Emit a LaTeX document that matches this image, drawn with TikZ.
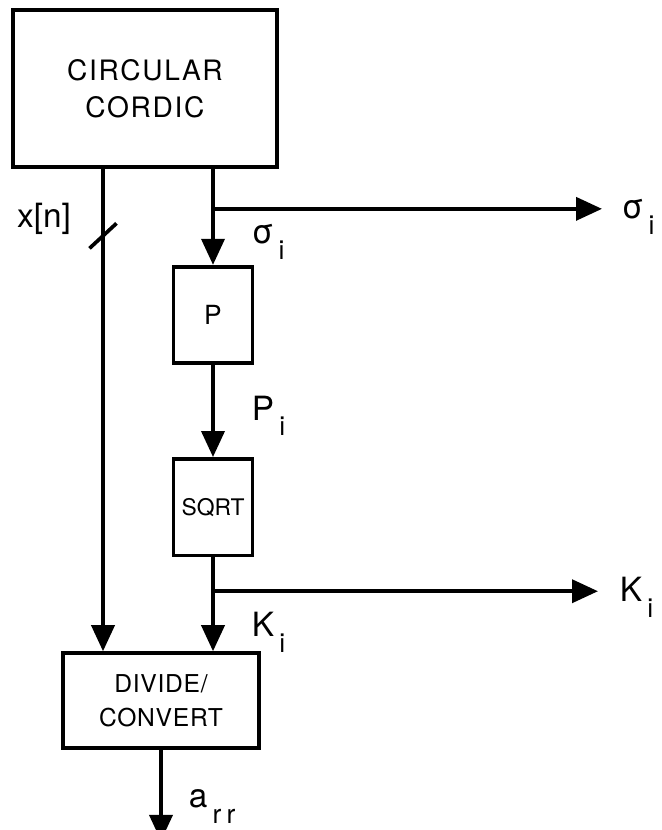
\documentclass[tikz,border=0pt]{standalone}
\usepackage{fontspec}
\setmainfont{TeX Gyre Heros}
\usepackage{tikz}
\usetikzlibrary{arrows.meta, positioning}
\newcommand{\lsub}[2]{#1\hspace{3pt}\raisebox{-9pt}{\fontsize{15}{15}\selectfont #2}}

\begin{document}
\begin{tikzpicture}[
  node distance=1.9cm and 1.0cm,
  line width=2.1pt,
  blk/.style={rectangle, draw=black, line width=2.1pt, align=center, inner sep=0pt},
  bigblk/.style={blk, minimum width=5.28cm, minimum height=3.14cm,
              font=\fontsize{16}{21}\selectfont\addfontfeature{LetterSpace=6}},
  smallblk/.style={blk, minimum width=1.58cm, minimum height=1.93cm},
  divblk/.style={blk, minimum width=3.92cm, minimum height=1.9cm,
              font=\fontsize{14}{19}\selectfont\addfontfeature{LetterSpace=3}},
  lbl/.style={inner sep=0pt, font=\fontsize{19}{19}\selectfont, anchor=base west},
  arrow/.style={-{Triangle[length=0.52cm,width=0.46cm]}, line width=2.1pt}
]
\useasboundingbox (0,0) rectangle (13.22,-16.6);

\node[bigblk] (cordic) at (2.9,-1.77) {CIRCULAR\\CORDIC};
\node[smallblk, font=\fontsize{15}{15}\selectfont, below=1.92cm of cordic, xshift=1.36cm] (pbox) {P};
\node[smallblk, font=\fontsize{13}{15}\selectfont, below=1.84cm of pbox] (sqrt) {SQRT};
\node[divblk,   below=1.88cm of sqrt, xshift=-1.04cm]  (divide) {DIVIDE/\\CONVERT};

\path (cordic.south) ++(-0.84,0) coordinate (xtop);
\path (xtop) ++(0,-1.34) coordinate (slash);
\path (pbox.north |- cordic.south) ++(0,-0.8) coordinate (sbr);
\path (sbr) ++(7.78,0) coordinate (sout);
\path (sqrt.south) ++(0,-0.68) coordinate (kbr);
\path (kbr) ++(7.7,0) coordinate (kout);
\path (divide.south) ++(0,-1.82) coordinate (aout);

\draw[arrow] (xtop) -- (xtop |- divide.north);
\draw ([shift={(-0.27,-0.25)}]slash) -- ([shift={(0.27,0.25)}]slash);
\draw[arrow] (pbox.north |- cordic.south) -- (pbox);
\draw[arrow] (sbr) -- (sout);
\draw[arrow] (pbox) -- (sqrt);
\draw[arrow] (sqrt) -- (sqrt.south |- divide.north);
\draw[arrow] (kbr) -- (kout);
\draw[arrow] (divide) -- (aout);

\node[lbl, anchor=center] (xlbl) at ([shift={(-1.18,-1.0)}]xtop) {x[n]};
\node[lbl] (siglbl)  at ([shift={(0.74,-0.7)}]sbr)        {\lsub{σ}{i}};
\node[lbl] (sigout)  at ([shift={(0.36,-0.2)}]sout)       {\lsub{σ}{i}};
\node[lbl] (plbl)    at ([shift={(0.74,-1.1)}]pbox.south) {\lsub{P}{i}};
\node[lbl] (klbl)    at ([shift={(0.74,-0.9)}]kbr)        {\lsub{K}{i}};
\node[lbl] (kout2)   at ([shift={(0.4,-0.2)}]kout)        {\lsub{K}{i}};
\node[lbl] (albl)    at ([shift={(0.52,-1.16)}]divide.south) {\lsub{a}{r\hspace{3pt}r}};
\end{tikzpicture}
\end{document}
